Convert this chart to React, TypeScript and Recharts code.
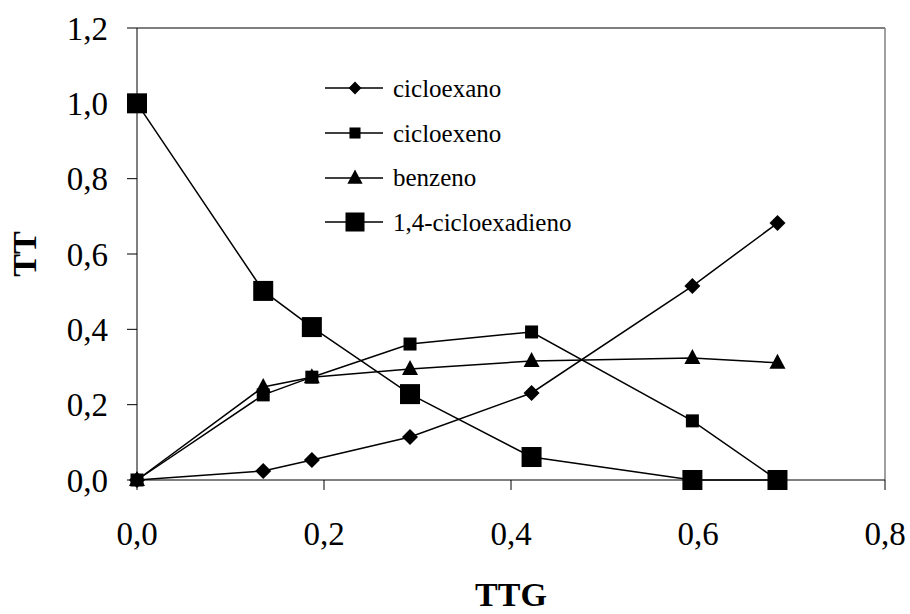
import {
  Label,
  Legend,
  Line,
  LineChart,
  ReferenceLine,
  XAxis,
  YAxis,
} from "recharts";

const ttg = [0, 0.135, 0.187, 0.292, 0.422, 0.594, 0.685];
const cicloexano = [0, 0.024, 0.053, 0.114, 0.231, 0.515, 0.682];
const cicloexeno = [0, 0.226, 0.273, 0.361, 0.393, 0.157, 0];
const benzeno = [0, 0.247, 0.273, 0.295, 0.316, 0.324, 0.311];
const cicloexadieno = [1.0, 0.502, 0.406, 0.228, 0.061, 0, 0];

const xTicks = [0, 0.2, 0.4, 0.6, 0.8];
const yTicks = [0, 0.2, 0.4, 0.6, 0.8, 1.0, 1.2];

const FONT = "'Times New Roman', 'Liberation Serif', 'DejaVu Serif', serif";

const data = ttg.map((x, i) => ({
  x,
  cicloexano: cicloexano[i],
  cicloexeno: cicloexeno[i],
  benzeno: benzeno[i],
  cicloexadieno: cicloexadieno[i],
}));

type Shape = "diamond" | "square" | "triangle" | "bigSquare";

function marker(shape: Shape, cx: number, cy: number, scale = 1, key?: string | number) {
  if (shape === "diamond") {
    const r = 8 * scale;
    return (
      <polygon
        key={key}
        points={`${cx},${cy - r} ${cx + r},${cy} ${cx},${cy + r} ${cx - r},${cy}`}
        fill="#000"
      />
    );
  }
  if (shape === "square") {
    const s = 6.5 * scale;
    return <rect key={key} x={cx - s} y={cy - s} width={2 * s} height={2 * s} fill="#000" />;
  }
  if (shape === "triangle") {
    const w = 8 * scale;
    return (
      <polygon
        key={key}
        points={`${cx},${cy - 9 * scale} ${cx + w},${cy + 6 * scale} ${cx - w},${cy + 6 * scale}`}
        fill="#000"
      />
    );
  }
  const s = 10 * scale;
  return <rect key={key} x={cx - s} y={cy - s} width={2 * s} height={2 * s} fill="#000" />;
}

const dotFor = (shape: Shape) => (props: any) =>
  marker(shape, props.cx, props.cy, 1, `${shape}-${props.index}`);

const series: { key: string; name: string; shape: Shape; legendScale: number }[] = [
  { key: "cicloexano", name: "cicloexano", shape: "diamond", legendScale: 0.8 },
  { key: "cicloexeno", name: "cicloexeno", shape: "square", legendScale: 0.85 },
  { key: "benzeno", name: "benzeno", shape: "triangle", legendScale: 0.95 },
  { key: "cicloexadieno", name: "1,4-cicloexadieno", shape: "bigSquare", legendScale: 0.95 },
];

function LegendBox() {
  return (
    <div style={{ fontFamily: FONT, fontSize: 25, color: "#000" }}>
      {series.map((s) => (
        <div key={s.key} style={{ display: "flex", alignItems: "center", height: 44.7 }}>
          <svg width={60} height={26} style={{ display: "block" }}>
            <line x1={0} y1={13} x2={58} y2={13} stroke="#000" strokeWidth={1.5} />
            {marker(s.shape, 30, 13, s.legendScale)}
          </svg>
          <span style={{ marginLeft: 8, lineHeight: 1 }}>{s.name}</span>
        </div>
      ))}
    </div>
  );
}

const fmt = (v: number) => v.toFixed(1).replace(".", ",");

const tickStyle = { fill: "#000", fontSize: 33, fontFamily: FONT };

export default function App() {
  return (
    <div
      style={{
        position: "absolute",
        left: 0,
        top: 0,
        width: 910,
        height: 614,
        background: "#fff",
        fontFamily: FONT,
      }}
    >
      <LineChart
        width={910}
        height={614}
        data={data}
        margin={{ top: 28, right: 25, bottom: 74, left: 57 }}
        style={{ fontFamily: FONT }}
      >
        <XAxis
          dataKey="x"
          type="number"
          domain={[0, 0.8]}
          ticks={xTicks}
          tickFormatter={fmt}
          height={60}
          stroke="#000"
          tickSize={10}
          tickMargin={32}
          tick={tickStyle}
        >
          <Label
            content={() => (
              <text x={511} y={606} textAnchor="middle" fontSize={34} fontWeight="bold" fontFamily={FONT} fill="#000">
                TTG
              </text>
            )}
          />
        </XAxis>
        <YAxis
          type="number"
          domain={[0, 1.2]}
          ticks={yTicks}
          tickFormatter={fmt}
          width={80}
          stroke="#000"
          tickSize={10}
          tickMargin={19}
          tick={tickStyle}
        >
          <Label
            content={() => (
              <text
                x={36}
                y={254}
                transform="rotate(-90 36 254)"
                textAnchor="middle"
                fontSize={34}
                fontWeight="bold"
                fontFamily={FONT}
                fill="#000"
              >
                TT
              </text>
            )}
          />
        </YAxis>
        <ReferenceLine y={1.2} stroke="#000" strokeWidth={1} />
        <ReferenceLine x={0.8} stroke="#808080" strokeWidth={1.5} />
        <Legend
          layout="vertical"
          align="center"
          verticalAlign="middle"
          wrapperStyle={{ left: 325, top: 66, width: 300 }}
          content={() => <LegendBox />}
        />
        {series.map((s) => (
          <Line
            key={s.key}
            dataKey={s.key}
            name={s.name}
            type="linear"
            stroke="#000"
            strokeWidth={1.5}
            dot={dotFor(s.shape)}
            activeDot={false}
            isAnimationActive={false}
          />
        ))}
      </LineChart>
    </div>
  );
}
